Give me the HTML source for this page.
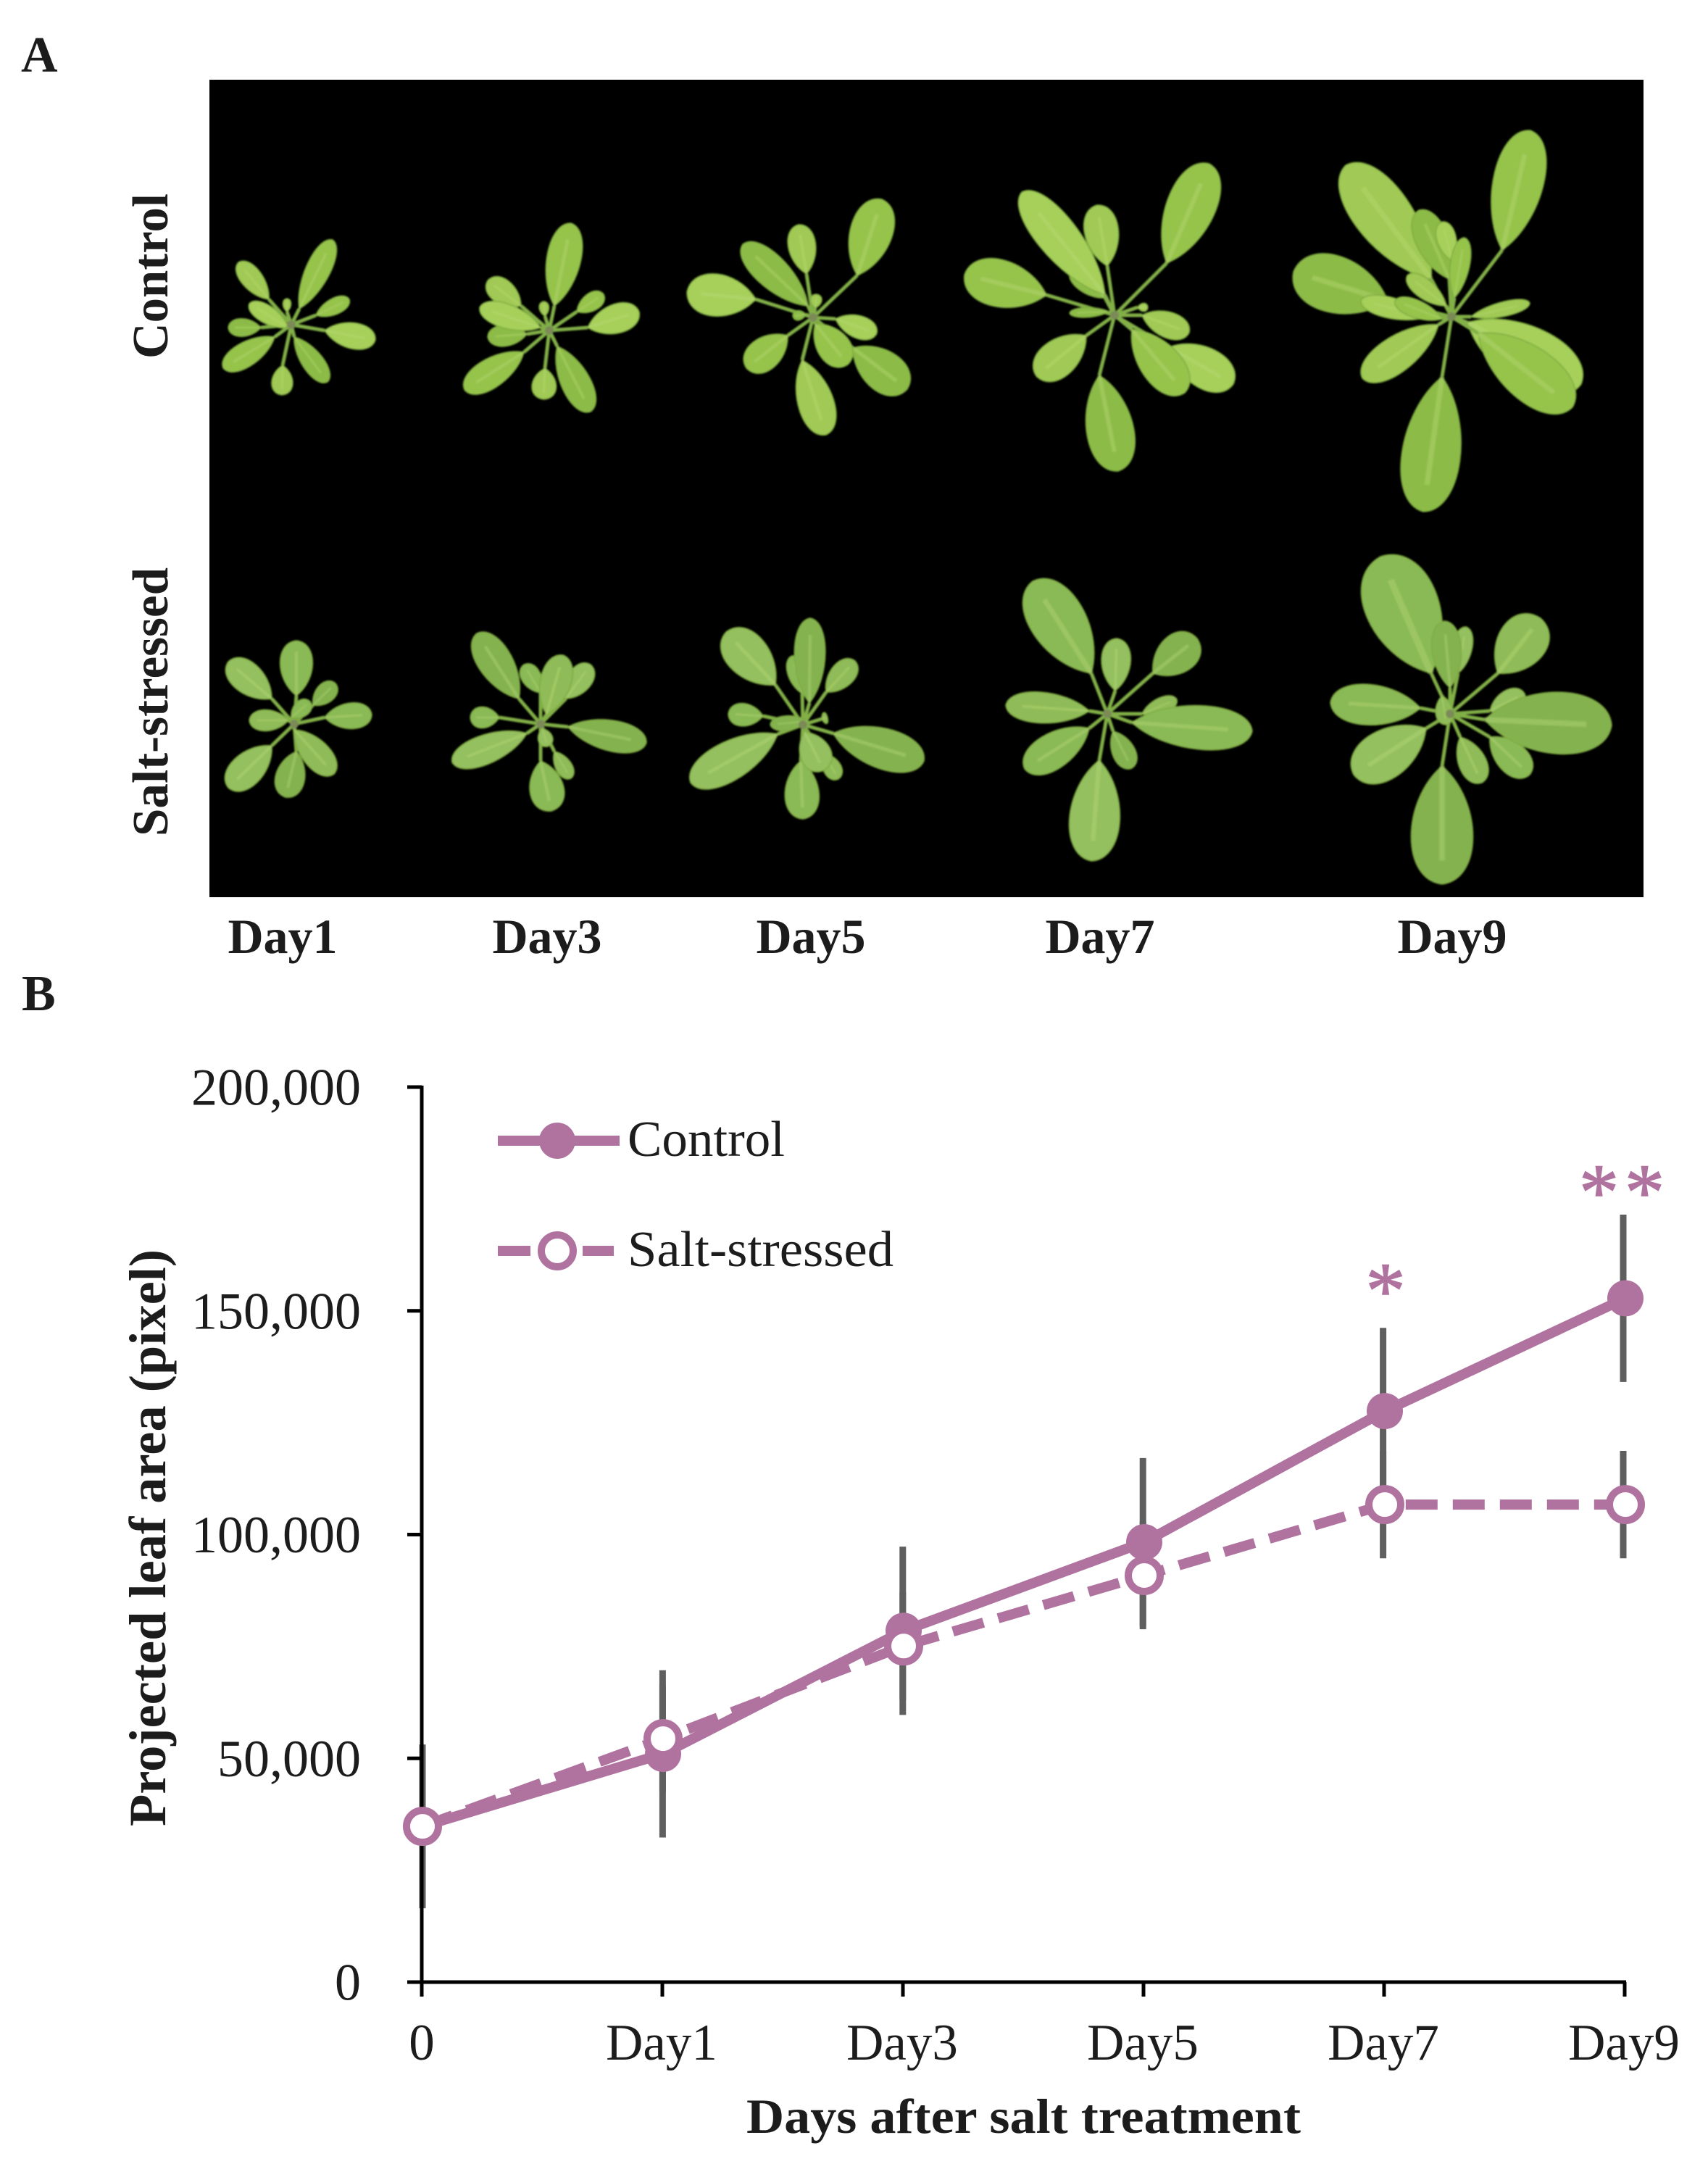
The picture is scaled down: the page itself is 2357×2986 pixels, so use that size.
<!DOCTYPE html>
<html lang="en">
<head>
<meta charset="utf-8">
<title>Projected leaf area under salt stress</title>
<style>
html,body{margin:0;padding:0;background:#fff;}
svg{display:block;}
text{font-family:"Liberation Serif",serif;fill:#1c1c1c;}
.b{font-weight:bold;}
</style>
</head>
<body>
<svg id="fig" xmlns="http://www.w3.org/2000/svg" width="2357" height="2986" viewBox="0 0 2357 2986">
  <defs>
    <filter id="soft" x="-10%" y="-10%" width="120%" height="120%"><feGaussianBlur stdDeviation="1.1"/></filter>
  </defs>
  <rect x="0" y="0" width="2357" height="2986" fill="#ffffff"/>
  <text class="b" x="29" y="99" font-size="70">A</text>
  <text class="b" x="30" y="1394" font-size="70">B</text>

  <g id="photo">
    <rect x="289" y="110" width="1979" height="1128" fill="#000000"/>
  </g>

  <text class="b" transform="translate(231 495) rotate(-90)" font-size="70" textLength="228" lengthAdjust="spacingAndGlyphs">Control</text>
  <text class="b" transform="translate(231 1154) rotate(-90)" font-size="70" textLength="371" lengthAdjust="spacingAndGlyphs">Salt-stressed</text>

  <text class="b" x="390" y="1315" font-size="68" text-anchor="middle">Day1</text>
  <text class="b" x="755" y="1315" font-size="68" text-anchor="middle">Day3</text>
  <text class="b" x="1119" y="1315" font-size="68" text-anchor="middle">Day5</text>
  <text class="b" x="1518" y="1315" font-size="68" text-anchor="middle">Day7</text>
  <text class="b" x="2004" y="1315" font-size="68" text-anchor="middle">Day9</text>

  <g id="chart"></g>

  <text class="b" transform="translate(228 2520) rotate(-90)" font-size="72" textLength="796" lengthAdjust="spacingAndGlyphs">Projected leaf area (pixel)</text>
  <text class="b" x="1030" y="2943" font-size="68" textLength="765" lengthAdjust="spacingAndGlyphs">Days after salt treatment</text>

  <g>
    <g>
      <line x1="687" y1="1574" x2="855" y2="1574" stroke="#b0739f" stroke-width="14"/>
      <circle cx="769" cy="1574" r="25" fill="#b0739f"/>
      <text x="866" y="1595" font-size="70" textLength="217" lengthAdjust="spacingAndGlyphs">Control</text>
    </g>
    <g>
      <line x1="687" y1="1726" x2="732" y2="1726" stroke="#b0739f" stroke-width="14"/>
      <line x1="804" y1="1726" x2="847" y2="1726" stroke="#b0739f" stroke-width="14"/>
      <circle cx="769" cy="1726" r="22" fill="#ffffff" stroke="#b0739f" stroke-width="10"/>
      <text x="866" y="1747" font-size="70" textLength="367" lengthAdjust="spacingAndGlyphs">Salt-stressed</text>
    </g>
  </g>
</svg>

<script>
/* ---------- chart data ---------- */
const categories = ['0', 'Day1', 'Day3', 'Day5', 'Day7', 'Day9'];
const controlValues = [34800, 51000, 78500, 98300, 127600, 152800];
const saltValues = [34800, 54400, 75100, 90850, 106700, 106700];
const controlErrors = [18300, 18700, 18800, 18800, 18600, 18700];
const saltErrors = [12000, 12000, 12000, 12000, 12000, 12000];
const yTickValues = [0, 50000, 100000, 150000, 200000];
const yTickLabels = ['0', '50,000', '100,000', '150,000', '200,000'];
const significanceLabels = ['', '', '', '', '*', '**'];
const significanceHeights = [0, 0, 0, 0, 156400, 178460];

const SVGNS = 'http://www.w3.org/2000/svg';
const chart = document.getElementById('chart');
const pink = '#b0739f';

function xScale(i) { return 583 + i * (1660 / (categories.length - 1)); }
function xBar(i) { return xScale(i) - i * 0.6; }
function xTick(i) { return xScale(i) - 1; }
function yScale(v) { return 2735 - (v / 200000) * 1235; }

function make(tag, attrs, parent) {
  const el = document.createElementNS(SVGNS, tag);
  for (const k in attrs) el.setAttribute(k, attrs[k]);
  parent.appendChild(el);
  return el;
}

/* error bars: beneath the axes and lines */
const errorGroup = make('g', {}, chart);


categories.forEach(function (c, i) {
  const a = make('line', { x1: xBar(i), x2: xBar(i), y1: yScale(controlValues[i] + controlErrors[i]), y2: yScale(controlValues[i] - controlErrors[i]), stroke: '#5f5f5f', 'stroke-width': 9 }, errorGroup);
  
  
  const b = make('line', { x1: xBar(i), x2: xBar(i), y1: yScale(saltValues[i] + saltErrors[i]), y2: yScale(saltValues[i] - saltErrors[i]), stroke: '#5f5f5f', 'stroke-width': 9 }, errorGroup);
  
  
});

/* axes */
const axes = make('g', {}, chart);


const yAxis = make('line', { x1: xTick(0), x2: xTick(0), y1: yScale(200000) - 2, y2: yScale(0) + 2, stroke: '#000', 'stroke-width': 5 }, axes);


const xAxis = make('line', { x1: xTick(0), x2: xTick(categories.length - 1) + 2, y1: yScale(0), y2: yScale(0), stroke: '#000', 'stroke-width': 5 }, axes);



yTickValues.forEach(function (v, i) {
  const t = make('line', { x1: 562, x2: xTick(0), y1: yScale(v), y2: yScale(v), stroke: '#000', 'stroke-width': 5 }, axes);
  
  
  const l = make('text', { x: 498, y: yScale(v) + 24.5, 'font-size': 72, 'text-anchor': 'end' }, axes);
  
  
  l.textContent = yTickLabels[i];
});

categories.forEach(function (c, i) {
  const t = make('line', { x1: xTick(i), x2: xTick(i), y1: yScale(0), y2: yScale(0) + 20, stroke: '#000', 'stroke-width': 5 }, axes);
  
  
  const l = make('text', { x: i === 0 ? xTick(i) : xTick(i) - 1, y: 2842, 'font-size': 71, 'text-anchor': 'middle' }, axes);
  
  
  l.textContent = c;
});

/* series */
function pointsOf(values) {
  return values.map(function (v, i) { return xScale(i) + ',' + yScale(v); }).join(' ');
}

const controlLine = make('polyline', { points: pointsOf(controlValues), fill: 'none', stroke: pink, 'stroke-width': 14 }, chart);


controlValues.forEach(function (v, i) {
  const m = make('circle', { cx: xScale(i), cy: yScale(v), r: 25, fill: pink }, chart);
  
  
});

const saltLine = make('polyline', { points: pointsOf(saltValues), fill: 'none', stroke: pink, 'stroke-width': 14, 'stroke-dasharray': '44 21' }, chart);


saltValues.forEach(function (v, i) {
  const m = make('circle', { cx: xScale(i), cy: yScale(v), r: 22, fill: '#fff', stroke: pink, 'stroke-width': 10 }, chart);
  
  
});

/* significance stars */
significanceLabels.forEach(function (s, i) {
  if (!s) return;
  const t = make('text', { x: xScale(i) + (s.length > 1 ? -1 : 1), y: yScale(significanceHeights[i]) + 49, 'font-size': 110, 'text-anchor': 'middle', 'letter-spacing': s.length > 1 ? 8 : 0, stroke: pink, 'stroke-width': 1.5 }, chart);
  
  
  t.style.fill = pink;
  t.textContent = s;
});
</script>

<script>
/* ---------- plant photo illustration: each leaf = blade base x,y, tip x,y, width ---------- */
const plantShapes = [
  { name: 'control-day1', c: [402, 448], salt: false, leaves: [
    [413,426,459,331,30],[371,413,329,362,26],[360,452,315,452,22],[398,452,344,419,22],[379,465,308,508,30],
    [390,504,389,545,26],[406,465,452,527,26],[448,456,518,469,32],[436,435,482,413,20],[396,430,396,412,10] ] },
  { name: 'control-day3', c: [758, 456], salt: false, leaves: [
    [765,422,788,308,42],[719,422,673,387,30],[727,461,673,465,26],[746,452,662,424,30],[723,486,641,538,36],
    [752,508,750,551,30],[769,478,815,568,36],[811,452,882,430,36],[796,430,833,406,22],[752,436,750,416,12] ] },
  { name: 'control-day5', c: [1122, 438], salt: false, leaves: [
    [1183,380,1217,275,52],[1113,378,1102,310,34],[1115,422,1025,337,40],[1043,413,948,403,52],[1087,463,1030,508,40],
    [1107,497,1140,600,44],[1177,480,1252,537,50],[1153,440,1210,460,28],[1125,447,1170,503,40],[1125,425,1127,406,14],[1112,434,1094,436,12] ] },
  { name: 'control-day7', c: [1538, 435], salt: false, leaves: [
    [1610,363,1669,226,60],[1528,367,1514,283,42],[1525,411,1477,375,22],[1525,407,1410,265,50],[1444,407,1331,379,58],
    [1499,463,1430,519,46],[1517,518,1543,650,58],[1613,479,1702,530,50],[1562,455,1635,542,50],[1576,435,1641,459,32],[1530,430,1476,432,12],[1570,424,1584,424,10] ] },
  { name: 'control-day9', c: [2003, 437], salt: false, leaves: [
    [2073,345,2112,180,62],[1975,385,1857,228,70],[2000,385,1958,290,40],[2004,360,1990,306,24],[2007,411,2021,328,24],
    [1996,422,1942,380,24],[1915,415,1785,375,70],[1970,437,1878,415,26],[1990,440,1925,415,22],[1985,448,1880,522,44],
    [1990,520,1964,706,72],[2025,445,2182,530,72],[2040,460,2170,562,66],[2030,437,2111,418,18] ] },
  { name: 'salt-day1', c: [406, 999], salt: true, leaves: [
    [409,960,409,884,40],[375,964,315,913,38],[432,973,463,943,24],[398,994,344,994,26],[448,990,513,986,32],
    [375,1029,315,1087,40],[409,1037,394,1100,36],[406,1007,461,1068,34],[402,990,428,968,20] ] },
  { name: 'salt-day3', c: [746, 999], salt: true, leaves: [
    [746,956,723,917,24],[781,964,815,917,30],[716,964,658,874,42],[754,986,777,904,38],[689,990,649,990,26],
    [727,1012,624,1052,36],[784,1003,892,1025,38],[765,1037,788,1074,20],[746,1050,761,1119,42],[748,1005,756,1030,18] ] },
  { name: 'salt-day5', c: [1108, 1000], salt: true, leaves: [
    [1107,957,1093,905,22],[1070,945,1002,872,52],[1117,970,1118,853,38],[1140,955,1180,912,30],[1053,988,1005,985,28],
    [1073,1013,953,1080,48],[1150,1012,1275,1050,50],[1137,1040,1157,1075,22],[1105,1050,1108,1130,42],[1110,1010,1137,1063,38],[1115,995,1063,1000,18],[1134,992,1142,990,14] ] },
  { name: 'salt-day7', c: [1528, 985], salt: true, leaves: [
    [1506,929,1425,802,68],[1539,953,1541,881,36],[1591,929,1652,881,48],[1503,981,1388,973,38],[1503,1005,1414,1061,44],
    [1517,1049,1506,1188,62],[1536,1009,1562,1060,28],[1576,985,1624,965,20],[1562,997,1728,1009,54] ] },
  { name: 'salt-day9', c: [2001, 985], salt: true, leaves: [
    [1975,929,1905,768,90],[2012,929,2023,865,24],[2001,949,1993,857,36],[2067,929,2126,853,60],[1960,977,1836,969,50],
    [1968,1005,1868,1069,60],[1990,1057,1990,1220,76],[2015,1017,2045,1080,34],[2056,1017,2111,1069,38],[2056,981,2104,957,28],[2049,993,2224,1001,76],[1990,960,1996,1000,22] ] }
];
const controlPalette = ['#96c44c', '#a0ca54', '#8cbc46', '#a6d05a'];
const saltPalette = ['#8aba55', '#94c05e', '#84b250', '#8fbc58'];

const photo = document.getElementById('photo');
plantShapes.forEach(function (plant) {
  const g = document.createElementNS('http://www.w3.org/2000/svg', 'g');
  
  
  g.setAttribute('filter', 'url(#soft)');
  photo.appendChild(g);
  const pal = plant.salt ? saltPalette : controlPalette;
  plant.leaves.forEach(function (lf, i) {
    const bx = lf[0], by = lf[1], tx = lf[2], ty = lf[3], w = lf[4] * 1.12;
    const dx = tx - bx, dy = ty - by;
    const L = Math.hypot(dx, dy) || 1;
    const ux = dx / L, uy = dy / L, px = -uy, py = ux;
    const c = w * 0.667;
    const a1x = bx + ux * L * 0.3 + px * c, a1y = by + uy * L * 0.3 + py * c;
    const a2x = tx - ux * L * 0.04 + px * c, a2y = ty - uy * L * 0.04 + py * c;
    const b1x = tx - ux * L * 0.04 - px * c, b1y = ty - uy * L * 0.04 - py * c;
    const b2x = bx + ux * L * 0.3 - px * c, b2y = by + uy * L * 0.3 - py * c;
    const color = pal[i % pal.length];

    const pet = document.createElementNS('http://www.w3.org/2000/svg', 'line');
    pet.setAttribute('x1', plant.c[0]);
    pet.setAttribute('y1', plant.c[1]);
    pet.setAttribute('x2', bx);
    pet.setAttribute('y2', by);
    pet.setAttribute('stroke', '#82b046');
    pet.setAttribute('stroke-width', 5);
    
    
    g.appendChild(pet);

    const blade = document.createElementNS('http://www.w3.org/2000/svg', 'path');
    blade.setAttribute('d', 'M' + bx + ' ' + by + 'C' + a1x + ' ' + a1y + ' ' + a2x + ' ' + a2y + ' ' + tx + ' ' + ty + 'C' + b1x + ' ' + b1y + ' ' + b2x + ' ' + b2y + ' ' + bx + ' ' + by + 'Z');
    blade.setAttribute('fill', color);
    blade.setAttribute('stroke', '#7eaa40');
    blade.setAttribute('stroke-width', 1.5);
    
    
    g.appendChild(blade);

    const rib = document.createElementNS('http://www.w3.org/2000/svg', 'line');
    rib.setAttribute('x1', bx);
    rib.setAttribute('y1', by);
    rib.setAttribute('x2', bx + dx * 0.8);
    rib.setAttribute('y2', by + dy * 0.8);
    rib.setAttribute('stroke', '#b8da78');
    rib.setAttribute('stroke-opacity', '0.4');
    rib.setAttribute('stroke-width', Math.max(2, w * 0.09));
    
    
    g.appendChild(rib);
  });
  const hub = document.createElementNS('http://www.w3.org/2000/svg', 'circle');
  hub.setAttribute('cx', plant.c[0]);
  hub.setAttribute('cy', plant.c[1]);
  hub.setAttribute('r', 6);
  hub.setAttribute('fill', '#7b8a58');
  
  
  g.appendChild(hub);
});
</script>
</body>
</html>
